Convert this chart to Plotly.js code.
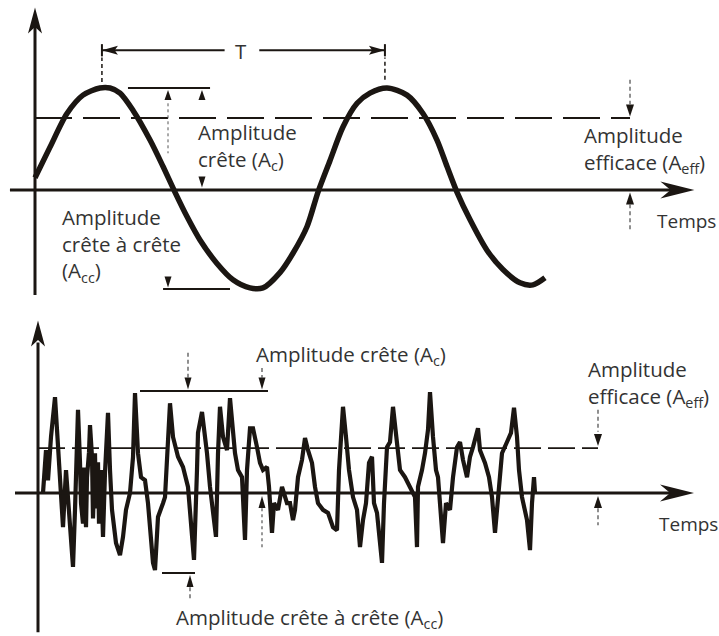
<!DOCTYPE html>
<html><head><meta charset="utf-8">
<script src="https://cdn.plot.ly/plotly-3.0.1.min.js"></script>
<style>html,body{margin:0;padding:0;background:#fff}#c{width:719px;height:636px}</style>
</head><body><div id="c"></div>
<script>
// ---- Data: pure sine wave (time in ms, amplitude normalised to peak) ----
const sineT = [0,1.06,2.26,3.39,4.59,5.3,6.01,6.93,8.13,9.05,9.89,10.74,11.66,12.86,13.99,15.19,16.11,17.31,18.23,19.22,20.0,20.85,21.77,22.76,23.67,24.88,26.29,27.42,28.41,29.12,29.82,30.74,31.94,33.07,34.28,35.19,36.04];
const sineY = [0.12,0.42,0.75,0.93,1.0,1.0,0.95,0.78,0.49,0.23,-0.02,-0.26,-0.49,-0.72,-0.88,-0.96,-0.96,-0.81,-0.62,-0.36,-0.02,0.29,0.62,0.85,0.95,1.0,0.93,0.75,0.49,0.23,-0.02,-0.29,-0.59,-0.78,-0.91,-0.93,-0.86];
const sinePeak = 1.0, sineRms = 0.706, sineTrough = -0.97;
const sinePeakTimes = [4.73, 24.73];

// ---- Data: complex (noisy) signal ----
const noiseT = [0.5,0.8,1.0,1.3,1.7,2.0,2.2,2.5,2.8,3.2,3.5,3.7,3.9,4.0,4.2,4.3,4.5,4.6,4.8,4.9,5.1,5.2,5.4,5.5,5.7,5.8,6.0,6.1,6.3,6.5,6.7,6.9,7.0,7.2,7.4,7.8,8.2,8.5,8.8,9.2,9.5,9.7,10.0,10.3,10.7,11.0,11.5,11.7,12.0,12.5,12.7,13.2,13.5,14.0,14.5,15.0,15.4,15.6,15.9,16.0,16.4,16.9,17.2,17.5,17.8,18.0,18.2,18.5,18.9,19.2,19.7,20.0,20.4,20.7,20.9,21.2,21.5,21.9,22.2,22.5,22.9,23.1,23.4,23.6,24.0,24.4,24.9,25.2,25.5,25.7,26.0,26.4,26.7,27.0,27.4,27.7,28.0,28.5,29.0,29.5,29.9,30.1,30.3,30.5,30.8,31.1,31.5,31.9,32.2,32.5,32.8,33.1,33.4,33.6,33.9,34.4,34.6,34.9,35.2,35.5,35.9,36.2,36.7,37.2,37.7,37.9,38.0,38.4,38.7,39.0,39.2,39.5,39.8,40.0,40.3,40.5,40.8,41.2,41.5,41.9,42.2,42.5,42.9,43.2,43.5,44.0,44.2,44.7,45.1,45.4,45.7,46.0,46.4,46.9,47.3,47.6,47.9,48.1,48.4,48.9,49.2,49.4,49.6,49.7];
const noiseY = [0,0.84,0.25,1.1,1.88,0.78,0.2,-0.67,0.45,-0.73,-1.45,-0.33,0.78,1.63,0.6,-0.2,-0.6,0.5,-0.67,0.3,0.8,1.33,0.71,-0.5,0.78,-0.3,0.6,-0.6,0.45,-0.86,0.4,1.0,1.57,0.45,-0.33,-0.98,-1.22,-0.86,-0.33,0.0,0.7,1.96,0.78,0.31,0.25,-0.2,-1.37,-1.51,-0.47,-0.2,-0.08,1.76,1.1,0.71,0.51,0.12,-0.73,-1.31,0.45,1.18,1.59,0.78,0.12,-0.39,-0.86,0.78,1.69,1.1,0.84,1.86,0.78,0.45,0.31,-0.92,0.45,1.27,1.27,0.9,0.59,0.45,0.51,0.12,-0.78,-0.2,-0.33,0.12,-0.2,-0.2,-0.53,-0.33,0.31,0.65,1.08,0.84,0.59,0.12,-0.2,-0.33,-0.39,-0.67,-0.73,0.45,1.18,1.69,1.1,0.45,-0.08,-0.33,-1.06,-0.53,-0.2,0.59,0.71,-0.2,-0.39,-1.37,-0.2,0.9,1.0,1.69,0.98,0.45,0.31,0.12,-0.08,-1.06,0.12,0.45,0.78,1.24,1.98,1.1,0.45,0.31,-0.33,-0.98,-0.2,-0.33,0.31,0.9,1.0,0.65,0.31,0.71,0.9,1.27,0.84,0.59,0.31,-0.08,-0.78,-0.08,0.78,1.0,1.18,1.67,1.1,0.45,-0.08,-0.53,-1.12,-0.2,0.31,0.0];
const noisePeak = 2.0, noiseRms = 0.88, noiseTrough = -1.57;

// ---- Labels ----
const lblCreteTwo = "Amplitude<br>crête (A<sub>c</sub>)";
const lblEffTwo = "Amplitude<br>efficace (A<sub>eff</sub>)";
const lblCCThree = "Amplitude<br>crête à crête<br>(A<sub>cc</sub>)";
const lblTemps = "Temps";
const lblT = "T";
const lblCreteFull = "Amplitude crête (A<sub>c</sub>)";
const lblCCFull = "Amplitude crête à crête (A<sub>cc</sub>)";

// ---- Geometry ----
const W = 719, H = 636;
const xr1 = [-2.4735, 48.339], yr1 = [-1.2549, 1.8627];
const xr2 = [-3.8, 68.1], yr2 = [-2.8039, 3.4314];
const TOP = {x:'x', y:'y', sx: W/(xr1[1]-xr1[0]), sy: (H/2)/(yr1[1]-yr1[0])};
const BOT = {x:'x2', y:'y2', sx: W/(xr2[1]-xr2[0]), sy: (H/2)/(yr2[1]-yr2[0])};
const INK = '#1b1612', TXT = '#333333', GREY = '#555';

const shapes = [];
function seg(ax, x0, y0, x1, y1, w, dash, color) {
  shapes.push({type:'line', xref:ax.x, yref:ax.y, x0, y0, x1, y1, layer:'above',
    line:{width:w, color: color || INK, dash: dash || 'solid'}});
}
function head(ax, x, y, dir, len, half, notch, color) {
  notch = notch || 0;
  const d = {up:[0,1], down:[0,-1], left:[-1,0], right:[1,0]}[dir];
  const bx = x - d[0]*len/ax.sx, by = y - d[1]*len/ax.sy;
  const p = [-d[1], d[0]];
  const b1 = [bx + p[0]*half/ax.sx, by + p[1]*half/ax.sy];
  const b2 = [bx - p[0]*half/ax.sx, by - p[1]*half/ax.sy];
  const n = [x - d[0]*len*(1-notch)/ax.sx, y - d[1]*len*(1-notch)/ax.sy];
  shapes.push({type:'path', xref:ax.x, yref:ax.y, layer:'above',
    path:`M${x},${y} L${b1[0]},${b1[1]} L${n[0]},${n[1]} L${b2[0]},${b2[1]} Z`,
    fillcolor: color || INK, line:{width:0}});
}

// ===== TOP PANEL =====
seg(TOP, 0, -1.03, 0, 1.62, 3);
head(TOP, 0, 1.79, 'up', 26, 7, 0.25);
seg(TOP, -1.77, 0, 45.5, 0, 3);
head(TOP, 46.6, 0, 'right', 34, 8.5, 0.3);
seg(TOP, 0, sineRms, 42.05, sineRms, 2, '37px,11px');
const tY = 1.37;
seg(TOP, sinePeakTimes[0], tY, 13.4, tY, 2);
seg(TOP, 15.85, tY, sinePeakTimes[1], tY, 2);
head(TOP, sinePeakTimes[0], tY, 'left', 16, 4.5, 0.2);
head(TOP, sinePeakTimes[1], tY, 'right', 16, 4.5, 0.2);
seg(TOP, sinePeakTimes[0], tY-0.06, sinePeakTimes[0], tY+0.06, 2);
seg(TOP, sinePeakTimes[1], tY-0.06, sinePeakTimes[1], tY+0.06, 2);
seg(TOP, sinePeakTimes[0], 1.06, sinePeakTimes[0], 1.30, 1.5, '4px,3px');
seg(TOP, sinePeakTimes[1], 1.08, sinePeakTimes[1], 1.30, 1.5, '4px,3px');
seg(TOP, 6.57, sinePeak, 12.37, sinePeak, 2);
head(TOP, 9.4, sinePeak-0.02, 'up', 10, 3.5);
head(TOP, 11.8, sinePeak-0.02, 'up', 10, 3.5);
head(TOP, 11.8, 0.025, 'down', 11, 3.5);
seg(TOP, 9.4, 0.85, 9.4, 0.36, 1, 'dot', GREY);
seg(TOP, 9.05, sineTrough, 13.78, sineTrough, 2);
head(TOP, 9.4, sineTrough+0.015, 'down', 11, 3.5);
seg(TOP, 42.05, 1.08, 42.05, 0.84, 1.3, '4px,3px', GREY);
head(TOP, 42.05, sineRms+0.015, 'down', 12, 4);
head(TOP, 42.05, -0.025, 'up', 12, 4);
seg(TOP, 42.05, -0.14, 42.05, -0.41, 1.3, '4px,3px', GREY);

// ===== BOTTOM PANEL =====
seg(BOT, 0, -2.73, 0, 2.95, 3);
head(BOT, 0, 3.38, 'up', 26, 7, 0.25);
seg(BOT, -2.3, 0, 64.4, 0, 3);
head(BOT, 65.6, 0, 'right', 34, 8.5, 0.3);
seg(BOT, 0, noiseRms, 56, noiseRms, 1.6, '27px,7px');
seg(BOT, 10.2, noisePeak, 23.0, noisePeak, 2);
head(BOT, 15.0, noisePeak+0.03, 'down', 12, 3.5);
head(BOT, 22.4, noisePeak+0.03, 'down', 12, 3.5);
seg(BOT, 15.0, 2.75, 15.0, 2.25, 1.3, '4px,3px', GREY);
seg(BOT, 22.4, 2.45, 22.4, 2.25, 1.3, '4px,3px', GREY);
head(BOT, 22.4, -0.06, 'up', 12, 3.5);
seg(BOT, 22.4, -0.3, 22.4, -1.1, 1.2, '3px,3px', GREY);
seg(BOT, 12.4, noiseTrough, 15.7, noiseTrough, 2);
head(BOT, 15.2, noiseTrough-0.04, 'up', 12, 3.5);
seg(BOT, 15.2, -1.85, 15.2, -2.1, 1.3, '4px,3px', GREY);
seg(BOT, 56, 1.63, 56, 1.2, 1.3, '4px,3px', GREY);
head(BOT, 56, noiseRms+0.04, 'down', 12, 4);
head(BOT, 56, -0.06, 'up', 12, 4);
seg(BOT, 56, -0.3, 56, -0.63, 1.3, '4px,3px', GREY);

// ---- text ----
const F = {family:'Open Sans, Noto Sans, sans-serif', size:20.5, color:TXT};
const FS = {family:'Open Sans, Noto Sans, sans-serif', size:19, color:TXT};
function txt(ax, x, y, text, anchor, font) {
  return {xref:ax.x, yref:ax.y, x, y, text, showarrow:false, xanchor: anchor || 'left',
    yanchor:'middle', align:'left', font: font || F, borderpad:0};
}
const annotations = [
  txt(TOP, 11.45, 0.43, lblCreteTwo),
  txt(TOP, 38.75, 0.40, lblEffTwo),
  txt(TOP, 43.9, -0.30, lblTemps, 'left', FS),
  txt(TOP, 1.85, -0.535, lblCCThree),
  txt(TOP, 14.56, 1.36, lblT, 'center'),
  txt(BOT, 21.7, 2.70, lblCreteFull),
  txt(BOT, 54.85, 2.15, lblEffTwo),
  txt(BOT, 62.0, -0.61, lblTemps, 'left', FS),
  txt(BOT, 13.7, -2.46, lblCCFull)
];

const traces = [
  {x: sineT, y: sineY, xaxis:'x', yaxis:'y', type:'scatter', mode:'lines',
   line:{color:INK, width:5.5, shape:'spline', smoothing:0.8}, hoverinfo:'skip'},
  {x: noiseT, y: noiseY, xaxis:'x2', yaxis:'y2', type:'scatter', mode:'lines',
   line:{color:INK, width:4.2, shape:'linear'}, hoverinfo:'skip'}
];
const hid = {visible:false, showgrid:false, zeroline:false, fixedrange:true};
const layout = {
  width: W, height: H, margin:{l:0,r:0,t:0,b:0}, showlegend:false,
  paper_bgcolor:'#fff', plot_bgcolor:'rgba(0,0,0,0)',
  xaxis: Object.assign({domain:[0,1], range:xr1, anchor:'y'}, hid),
  yaxis: Object.assign({domain:[0.5,1], range:yr1, anchor:'x'}, hid),
  xaxis2: Object.assign({domain:[0,1], range:xr2, anchor:'y2'}, hid),
  yaxis2: Object.assign({domain:[0,0.5], range:yr2, anchor:'x2'}, hid),
  shapes, annotations
};
Plotly.newPlot('c', traces, layout, {staticPlot:true, displayModeBar:false});
</script>
</body></html>
